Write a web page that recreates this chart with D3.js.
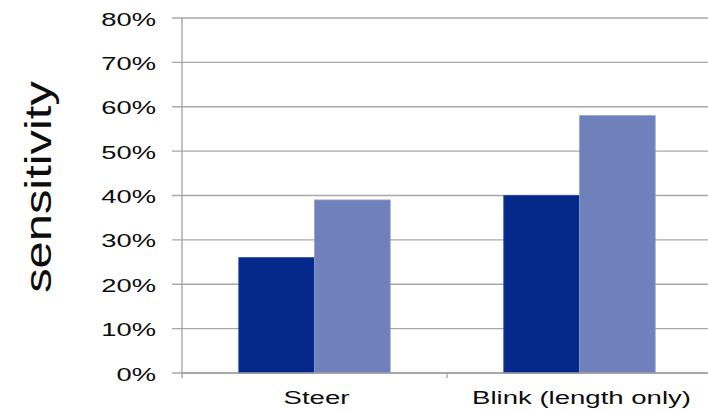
<!DOCTYPE html>
<html>
<head>
<meta charset="utf-8">
<script src="https://cdn.jsdelivr.net/npm/d3@7"></script>
<style>
  html, body { margin: 0; padding: 0; background: #fff; }
  svg { display: block; }
  text { font-family: "Liberation Sans", Arial, Helvetica, sans-serif; fill: #0d0d0d; }
</style>
</head>
<body>
<svg id="chart" width="708" height="412"></svg>
<script>
// Chart data
const categories = ["Steer", "Blink (length only)"];
const seriesNames = ["A", "B"];
const seriesA = [0.26, 0.40];
const seriesB = [0.39, 0.58];
const yTicks = [0, 0.1, 0.2, 0.3, 0.4, 0.5, 0.6, 0.7, 0.8];
const yTitle = "sensitivity";

const colors = { A: "#04298a", B: "#6f80ba" };
const strokes = { A: "#2a4aa0", B: "#8fa0d4" };

const W = 708, H = 412;
const plot = { left: 182, right: 712, top: 18, bottom: 373 };

const svg = d3.select("#chart");

const x = d3.scaleBand().domain(categories).range([plot.left, plot.right]).paddingInner(0).paddingOuter(0);
const xs = d3.scaleBand().domain(seriesNames).range([0, x.bandwidth()]).paddingInner(0).paddingOuter(0.75);
const y = d3.scaleLinear().domain([0, 0.8]).range([plot.bottom, plot.top]);

// horizontal gridlines with left tick marks
svg.append("g").selectAll("line").data(yTicks).join("line")
  .attr("x1", plot.left - 10).attr("x2", W)
  .attr("y1", d => y(d)).attr("y2", d => y(d))
  .attr("stroke", "#a8a8a8").attr("stroke-width", 1.3);

// y tick labels (wide sans)
const fmt = d3.format(".0%");
svg.append("g").selectAll("text").data(yTicks).join("text")
  .attr("transform", d => `translate(156,${y(d) + 7.5}) scale(1.52,1)`)
  .attr("text-anchor", "end")
  .style("font-size", "18px")
  .text(d => fmt(d));

// bars
const rows = categories.map((c, i) => ({ cat: c, vals: [
  { key: "A", v: seriesA[i] }, { key: "B", v: seriesB[i] }
]}));

const groups = svg.append("g").selectAll("g").data(rows).join("g")
  .attr("transform", d => `translate(${x(d.cat)},0)`);

groups.selectAll("rect").data(d => d.vals).join("rect")
  .attr("x", d => xs(d.key))
  .attr("y", d => y(d.v))
  .attr("width", xs.bandwidth())
  .attr("height", d => y(0) - y(d.v))
  .attr("fill", d => colors[d.key])
  .attr("stroke", d => strokes[d.key])
  .attr("stroke-width", 0.8);

// axes lines
svg.append("line")
  .attr("x1", plot.left).attr("x2", plot.left)
  .attr("y1", plot.top).attr("y2", plot.bottom + 5)
  .attr("stroke", "#a0a0a0").attr("stroke-width", 1.3);
svg.append("line")
  .attr("x1", plot.left).attr("x2", W)
  .attr("y1", plot.bottom).attr("y2", plot.bottom)
  .attr("stroke", "#a0a0a0").attr("stroke-width", 1.3);

// category separators on the x axis
const seps = categories.slice(1).map(c => x(c));
svg.append("g").selectAll("line").data(seps).join("line")
  .attr("x1", d => d).attr("x2", d => d)
  .attr("y1", plot.bottom).attr("y2", plot.bottom + 5)
  .attr("stroke", "#a0a0a0").attr("stroke-width", 1.3);

// category labels
svg.append("g").selectAll("text").data(categories).join("text")
  .attr("transform", d => `translate(${x(d) + x.bandwidth() / 2 + 2},404) scale(1.45,1)`)
  .attr("text-anchor", "middle")
  .style("font-size", "19px")
  .text(d => d);

// y axis title
svg.append("text")
  .attr("transform", `translate(51,187) rotate(-90) scale(1.32,1)`)
  .attr("text-anchor", "middle")
  .style("font-size", "37px")
  .text(yTitle);
</script>
</body>
</html>
